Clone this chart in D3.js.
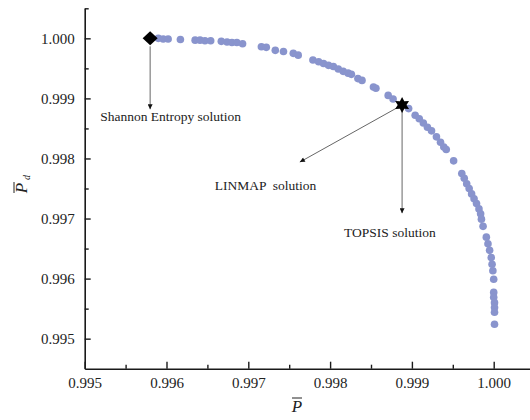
<!DOCTYPE html>
<html>
<head>
<meta charset="utf-8">
<script src="https://cdn.jsdelivr.net/npm/d3@7"></script>
<style>
  html, body { margin: 0; padding: 0; background: #fff; }
  svg { display: block; }
  svg text { font-family: "Liberation Serif", "Times New Roman", serif; }
</style>
</head>
<body>
<svg id="chart" width="530" height="420"></svg>
<script>
// Pareto front: average power output (P) vs. average detection probability (Pd)
const paretoP = [
  0.99590, 0.99596, 0.99602, 0.99617, 0.99635, 0.99641, 0.99647, 0.99654,
  0.99667, 0.99674, 0.99680, 0.99686, 0.99693, 0.99716, 0.99722, 0.99733,
  0.99743, 0.99755, 0.99761, 0.99779, 0.99786, 0.99792, 0.99798, 0.99804,
  0.99810, 0.99816, 0.99822, 0.99826, 0.99834, 0.99839, 0.99853, 0.99856,
  0.99871, 0.99877, 0.99896, 0.99904, 0.99909, 0.99914, 0.99919, 0.99924,
  0.99930, 0.99935, 0.99939, 0.99942, 0.99951, 0.99961, 0.99964, 0.99967,
  0.99970, 0.99973, 0.99976, 0.99979, 0.99982, 0.99984, 0.99985, 0.99987,
  0.99991, 0.99993, 0.99995, 0.99997, 0.99998, 0.99999, 1.00000, 1.00000,
  1.00000, 1.00001, 1.00001, 1.00001, 1.00001
];
const paretoPd = [
  1.00000, 0.99999, 0.99999, 0.99998, 0.99997, 0.99997, 0.99996, 0.99996,
  0.99995, 0.99994, 0.99993, 0.99993, 0.99991, 0.99986, 0.99985, 0.99980,
  0.99978, 0.99975, 0.99972, 0.99964, 0.99961, 0.99958, 0.99955, 0.99953,
  0.99949, 0.99945, 0.99942, 0.99940, 0.99933, 0.99930, 0.99919, 0.99917,
  0.99905, 0.99899, 0.99883, 0.99872, 0.99866, 0.99859, 0.99852, 0.99846,
  0.99836, 0.99827, 0.99819, 0.99815, 0.99796, 0.99775, 0.99767, 0.99758,
  0.99750, 0.99741, 0.99733, 0.99725, 0.99716, 0.99708, 0.99699, 0.99687,
  0.99669, 0.99658, 0.99647, 0.99635, 0.99624, 0.99613, 0.99599, 0.99577,
  0.99569, 0.99560, 0.99552, 0.99544, 0.99524
];

// Decision-making solutions picked from the front
const shannonPoint = [0.99580, 1.00000];
const compromisePoint = [0.99888, 0.99889];   // LINMAP and TOPSIS coincide

// Where each annotation arrow ends (data units)
const shannonArrowEnd = [0.99580, 0.99882];
const linmapArrowEnd = [0.99763, 0.99794];
const topsisArrowEnd = [0.99888, 0.99709];

const xTicks = [0.995, 0.996, 0.997, 0.998, 0.999, 1.000];
const yTicks = [0.995, 0.996, 0.997, 0.998, 0.999, 1.000];
const xMinorTicks = [0.9955, 0.9965, 0.9975, 0.9985, 0.9995];
const yMinorTicks = [0.9955, 0.9965, 0.9975, 0.9985, 0.9995, 1.0005];

const serif = "'Liberation Serif', 'Times New Roman', serif";
const svg = d3.select("#chart");

const x = d3.scaleLinear().domain([0.995, 1.0005]).range([84.7, 534.6]);
const y = d3.scaleLinear().domain([0.9945, 1.0005]).range([368.7, 8.3]);

const fmt = d3.format(".3f");
const axisColor = "#1a1a1a";

// x axis (ticks point inward)
const xAxisG = svg.append("g").attr("transform", `translate(0,${y.range()[0]})`);
xAxisG.call(d3.axisBottom(x).tickValues(xTicks).tickFormat(fmt)
  .tickSizeInner(-7).tickSizeOuter(0).tickPadding(9));
xAxisG.append("g").call(d3.axisBottom(x).tickValues(xMinorTicks).tickFormat("")
  .tickSizeInner(-4).tickSizeOuter(0)).select(".domain").remove();

// y axis (ticks point inward)
const yAxisG = svg.append("g").attr("transform", `translate(${x.range()[0]},0)`);
yAxisG.call(d3.axisLeft(y).tickValues(yTicks).tickFormat(fmt)
  .tickSizeInner(-6).tickSizeOuter(0).tickPadding(10));
yAxisG.append("g").call(d3.axisLeft(y).tickValues(yMinorTicks).tickFormat("")
  .tickSizeInner(-4).tickSizeOuter(0)).select(".domain").remove();

[xAxisG, yAxisG].forEach(g => g.attr("font-family", serif).attr("font-size", 15));
svg.selectAll(".domain").attr("stroke", axisColor).attr("stroke-width", 1.6);
svg.selectAll(".tick line").attr("stroke", axisColor).attr("stroke-width", 1.4);
svg.selectAll(".tick text")
  .attr("fill", "#222")
  .style("font-family", serif)
  .style("font-size", "15px");
xAxisG.selectAll(".tick text").attr("dy", "0.71em");

// Axis titles
svg.append("text")
  .attr("x", 297).attr("y", 412)
  .attr("text-anchor", "middle")
  .style("font-size", "17px").style("font-style", "italic")
  .attr("fill", "#222")
  .text("P");
svg.append("line")
  .attr("x1", 292).attr("x2", 302).attr("y1", 398).attr("y2", 398)
  .attr("stroke", "#222").attr("stroke-width", 1);

const yTitle = svg.append("g").attr("transform", "translate(27,185) rotate(-90)");
yTitle.append("text")
  .attr("x", -3).attr("y", 0)
  .attr("text-anchor", "middle")
  .style("font-size", "17px").style("font-style", "italic")
  .attr("fill", "#222")
  .text("P");
yTitle.append("text")
  .attr("x", 5).attr("y", 3)
  .style("font-size", "10px").style("font-style", "italic")
  .attr("fill", "#222")
  .text("d");
yTitle.append("line")
  .attr("x1", -8).attr("x2", 3).attr("y1", -13).attr("y2", -13)
  .attr("stroke", "#222").attr("stroke-width", 1);

// Pareto points
const pts = paretoP.map((p, i) => [p, paretoPd[i]]);
svg.append("g").selectAll("circle")
  .data(pts)
  .join("circle")
  .attr("cx", d => x(d[0]))
  .attr("cy", d => y(d[1]))
  .attr("r", 3.8)
  .attr("fill", "#8994cd");

// Arrow marker
svg.append("defs").append("marker")
  .attr("id", "arrowHead")
  .attr("viewBox", "0 0 10 10")
  .attr("refX", 10).attr("refY", 5)
  .attr("markerWidth", 8).attr("markerHeight", 5)
  .attr("markerUnits", "userSpaceOnUse")
  .attr("orient", "auto")
  .append("path")
  .attr("d", "M0,0 L10,5 L0,10 Z")
  .attr("fill", "#111");

function arrow(from, to, startOffset) {
  const x1 = x(from[0]), y1 = y(from[1]);
  const x2 = x(to[0]), y2 = y(to[1]);
  const len = Math.hypot(x2 - x1, y2 - y1);
  const ux = (x2 - x1) / len, uy = (y2 - y1) / len;
  svg.append("line")
    .attr("x1", x1 + ux * startOffset).attr("y1", y1 + uy * startOffset)
    .attr("x2", x2).attr("y2", y2)
    .attr("stroke", "#555").attr("stroke-width", 0.9)
    .attr("marker-end", "url(#arrowHead)");
}

arrow(shannonPoint, shannonArrowEnd, 8);
arrow(compromisePoint, linmapArrowEnd, 4);
arrow(compromisePoint, topsisArrowEnd, 6);

// Shannon entropy solution: diamond
const sx = x(shannonPoint[0]), sy = y(shannonPoint[1]);
svg.append("path")
  .attr("d", `M${sx},${sy - 7} L${sx + 7.5},${sy} L${sx},${sy + 7} L${sx - 7.5},${sy} Z`)
  .attr("fill", "#000");

// LINMAP / TOPSIS solution: six-pointed star
const cx = x(compromisePoint[0]), cy = y(compromisePoint[1]);
const starPts = d3.range(12).map(i => {
  const a = -Math.PI / 2 + i * Math.PI / 6;
  const r = i % 2 === 0 ? 8 : 4.4;
  return [cx + r * Math.cos(a), cy + r * Math.sin(a)];
});
svg.append("path")
  .attr("d", "M" + starPts.map(p => p.join(",")).join("L") + "Z")
  .attr("fill", "#000");

// Annotation labels
const labelStyle = sel => sel
  .style("font-size", "13.5px")
  .attr("fill", "#222");

svg.append("text").attr("x", x(shannonArrowEnd[0]) - 50).attr("y", y(shannonArrowEnd[1]) + 11.5)
  .call(labelStyle).text("Shannon Entropy solution");
svg.append("text").attr("x", x(linmapArrowEnd[0]) - 85).attr("y", y(linmapArrowEnd[1]) + 27.5)
  .attr("xml:space", "preserve").style("white-space", "pre")
  .call(labelStyle).text("LINMAP  solution");
svg.append("text").attr("x", x(topsisArrowEnd[0]) - 58).attr("y", y(topsisArrowEnd[1]) + 24)
  .call(labelStyle).text("TOPSIS solution");
</script>
</body>
</html>
